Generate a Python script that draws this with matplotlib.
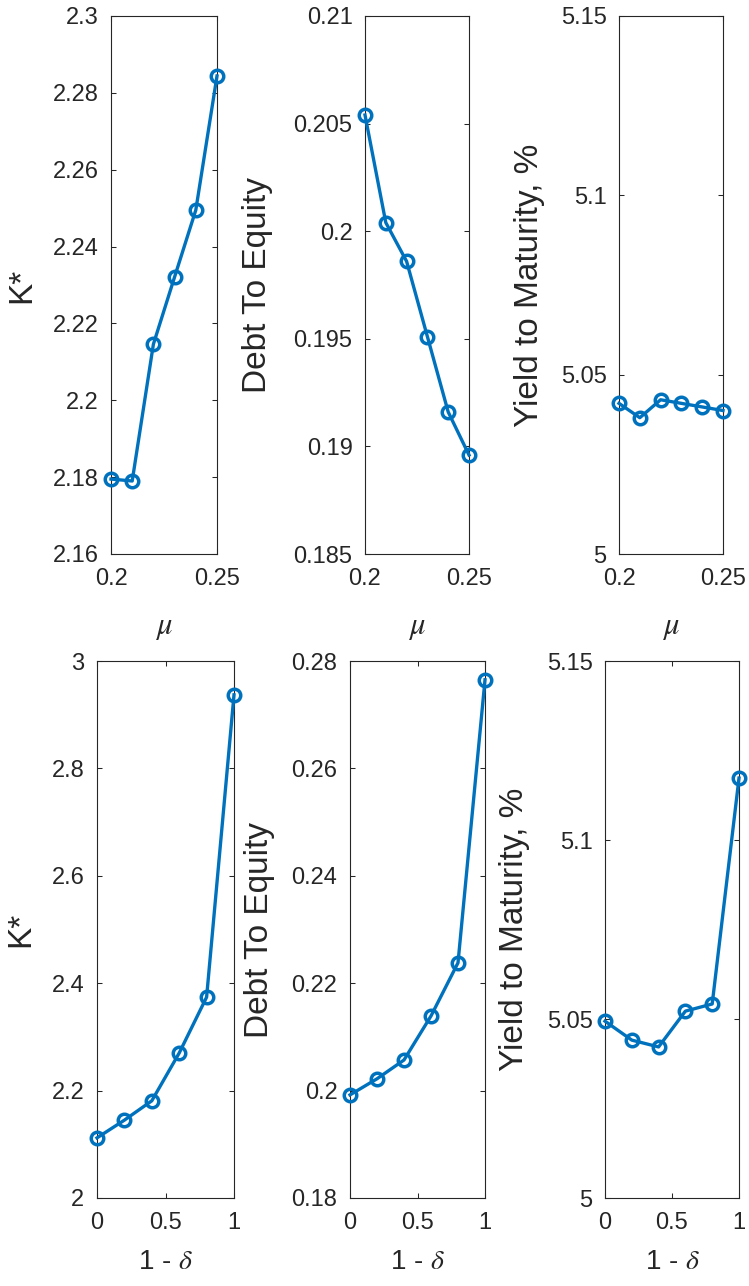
import matplotlib
matplotlib.use('Agg')
import matplotlib.pyplot as plt

plt.rcParams['font.family'] = ['Liberation Sans', 'DejaVu Sans']
plt.rcParams['mathtext.fontset'] = 'stix'

# sensitivity to mu
mu = [0.20, 0.21, 0.22, 0.23, 0.24, 0.25]
k_mu = [2.1795, 2.179, 2.2146, 2.2321, 2.2495, 2.2844]
de_mu = [0.2054, 0.2004, 0.1986, 0.1951, 0.1916, 0.1896]
ytm_mu = [5.042, 5.038, 5.043, 5.042, 5.041, 5.040]

# sensitivity to 1 - delta
one_minus_delta = [0.0, 0.2, 0.4, 0.6, 0.8, 1.0]
k_d = [2.112, 2.145, 2.181, 2.270, 2.374, 2.937]
de_d = [0.1992, 0.2022, 0.2057, 0.2139, 0.2238, 0.2765]
ytm_d = [5.0494, 5.0441, 5.0422, 5.0522, 5.0542, 5.1173]

W, H = 749.0, 1286.0
BLUE = '#0072BD'
DARK = '#262626'

# (left, right, top, bottom) in pixels, x data, y data, ylim, yticks, ylabel, ylabel x
panels = [
    (111, 217, 16, 554, mu, k_mu, (2.16, 2.30), [2.16, 2.18, 2.2, 2.22, 2.24, 2.26, 2.28, 2.3], 'K*', -0.70),
    (365, 469, 16, 554, mu, de_mu, (0.185, 0.21), [0.185, 0.19, 0.195, 0.2, 0.205, 0.21], 'Debt To Equity', -0.885),
    (619, 723, 16, 554, mu, ytm_mu, (5.0, 5.15), [5.0, 5.05, 5.1, 5.15], 'Yield to Maturity, %', -0.71),
    (97, 234, 661, 1198, one_minus_delta, k_d, (2.0, 3.0), [2.0, 2.2, 2.4, 2.6, 2.8, 3.0], 'K*', -0.44),
    (350, 485, 661, 1198, one_minus_delta, de_d, (0.18, 0.28), [0.18, 0.2, 0.22, 0.24, 0.26, 0.28], 'Debt To Equity', -0.555),
    (605, 739, 661, 1198, one_minus_delta, ytm_d, (5.0, 5.15), [5.0, 5.05, 5.1, 5.15], 'Yield to Maturity, %', -0.56),
]

fig = plt.figure(figsize=(W / 100, H / 100), dpi=100)

for i, (l, r, t, b, xs, ys, ylim, yticks, ylab, ylx) in enumerate(panels):
    ax = fig.add_axes([l / W, 1 - b / H, (r - l) / W, (b - t) / H])
    ax.plot(xs, ys, '-o', color=BLUE, lw=2.4, ms=9, mfc='none', mew=2.5,
            clip_on=False, zorder=5)
    ax.set_ylim(*ylim)
    ax.set_yticks(yticks)
    ax.set_yticklabels(['%g' % v for v in yticks])
    if i < 3:
        ax.set_xlim(0.2, 0.25)
        ax.set_xticks([0.2, 0.25])
        ax.set_xticklabels(['0.2', '0.25'])
        ax.set_xlabel(r'$\mu$', fontsize=22)
        ax.xaxis.set_label_coords(0.5, -0.108)
    else:
        ax.set_xlim(0, 1)
        ax.set_xticks([0, 0.5, 1])
        ax.set_xticklabels(['0', '0.5', '1'])
        ax.set_xlabel(r'1 - $\delta$', fontsize=20)
        ax.xaxis.set_label_coords(0.5, -0.095)
    ax.set_ylabel(ylab, fontsize=24, color=DARK)
    ax.yaxis.set_label_coords(ylx, 0.5)
    ax.xaxis.label.set_color(DARK)
    for s in ax.spines.values():
        s.set_color(DARK)
        s.set_linewidth(0.8)
    ax.tick_params(direction='in', length=3.6, width=0.75, colors=DARK,
                   labelsize=17, top=True, right=True)
    ax.tick_params(axis='x', pad=10)
    ax.tick_params(axis='y', pad=9)

fig.savefig('out.png', dpi=100)
